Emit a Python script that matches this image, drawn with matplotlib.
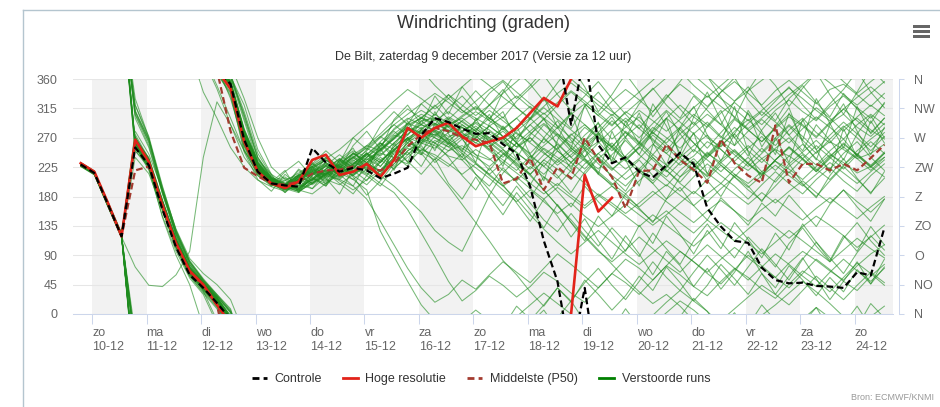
import numpy as np
import pandas as pd
import matplotlib
matplotlib.use('Agg')
import matplotlib.pyplot as plt
import matplotlib.dates as mdates
from matplotlib.lines import Line2D
from matplotlib.patches import Rectangle

plt.rcParams['font.family'] = ['Liberation Sans', 'DejaVu Sans']

#
# data (wind direction in degrees, 6-hourly from 9 Dec 19:00)
#
times = pd.date_range('2017-12-09 19:00', periods=60, freq='6h')

day_names = ['zo', 'ma', 'di', 'wo', 'do', 'vr', 'za', 'zo', 'ma', 'di', 'wo', 'do', 'vr', 'za', 'zo']
day_dates = ['10-12', '11-12', '12-12', '13-12', '14-12', '15-12', '16-12', '17-12',
             '18-12', '19-12', '20-12', '21-12', '22-12', '23-12', '24-12']
compass = ['N', 'NO', 'O', 'ZO', 'Z', 'ZW', 'W', 'NW', 'N']

control = [229, 216, 168, 119, 255, 228, 160, 102, 60, 40,
           17, 352, 267, 218, 200, 197, 195, 254, 232, 218,
           224, 220, 208, 215, 224, 274, 300, 294, 284, 276,
           277, 260, 246, 195, 112, 50, 290, 40, 259, 231,
           240, 218, 209, 228, 247, 230, 162, 134, 112, 109,
           71, 52, 47, 48, 43, 42, 40, 64, 59, 132]

hres = [231, 218, 170, 119, 267, 233, 166, 108, 66, 45,
        14, 345, 264, 218, 200, 193, 203, 236, 244, 213,
        218, 230, 210, 236, 285, 270, 285, 293, 272, 257,
        264, 270, 285, 308, 331, 318, 360, 213, 157, 178]
hres_long_way = [37]

p50 = [229, 216, 168, 119, 220, 226, 168, 108, 64, 43,
       14, 280, 224, 211, 200, 198, 203, 215, 220, 221,
       226, 223, 220, 230, 257, 275, 285, 280, 270, 267,
       262, 200, 207, 239, 190, 225, 208, 270, 236, 210,
       162, 219, 220, 260, 236, 221, 201, 268, 231, 212,
       201, 289, 201, 230, 230, 220, 230, 220, 239, 259]

# perturbed runs that stay in the westerly bundle
runs_west = [
    [229, 216, 168, 119, 265, 232, 168, 110, 66, 44,
     18, 350, 268, 222, 204, 196, 200, 214, 226, 218,
     232, 224, 244, 262, 280, 290, 282, 272, 278, 262,
     256, 270, 246, 232, 254, 240, 226, 250, 264, 240,
     222, 238, 260, 246, 228, 242, 264, 252, 232, 220,
     238, 252, 242, 228, 248, 264, 252, 238, 246, 260],
    [226, 213, 164, 116, 300, 255, 185, 125, 80, 52,
     30, 8, 300, 238, 208, 194, 206, 222, 212, 230,
     218, 236, 250, 268, 292, 284, 298, 278, 286, 270,
     288, 302, 276, 264, 290, 272, 250, 274, 292, 268,
     286, 302, 278, 262, 284, 306, 290, 270, 298, 282,
     264, 284, 302, 288, 270, 292, 306, 286, 272, 292],
    [231, 218, 171, 122, 258, 220, 150, 96, 55, 30,
     345, 290, 240, 212, 198, 190, 196, 208, 200, 216,
     206, 222, 214, 236, 256, 268, 262, 250, 258, 244,
     236, 252, 228, 214, 236, 222, 206, 230, 246, 224,
     206, 222, 244, 228, 210, 226, 246, 232, 214, 200,
     218, 234, 222, 206, 226, 244, 232, 216, 226, 240],
    [228, 215, 166, 117, 240, 215, 160, 105, 62, 40,
     20, 330, 260, 220, 200, 205, 190, 215, 232, 210,
     226, 244, 232, 256, 274, 296, 300, 286, 270, 282,
     300, 284, 262, 280, 298, 276, 262, 286, 270, 250,
     272, 290, 268, 250, 276, 294, 270, 256, 280, 298,
     276, 258, 282, 300, 278, 262, 286, 300, 282, 268],
    [232, 219, 172, 124, 270, 225, 148, 90, 45, 340,
     300, 255, 225, 205, 195, 188, 198, 192, 210, 224,
     212, 230, 220, 246, 266, 280, 274, 290, 300, 284,
     270, 284, 300, 278, 262, 286, 308, 290, 272, 256,
     280, 264, 244, 268, 286, 262, 240, 258, 276, 250,
     232, 254, 270, 246, 228, 250, 268, 242, 226, 248],
    [227, 214, 165, 118, 330, 270, 190, 120, 70, 35,
     350, 300, 250, 215, 200, 192, 186, 204, 218, 206,
     224, 212, 236, 250, 270, 262, 284, 300, 286, 272,
     258, 240, 262, 244, 226, 250, 232, 214, 238, 256,
     236, 218, 200, 224, 246, 228, 212, 236, 252, 230,
     214, 236, 256, 238, 220, 242, 260, 244, 228, 246],
    [230, 217, 170, 121, 280, 245, 190, 130, 85, 62,
     45, 22, 330, 270, 225, 206, 212, 226, 214, 232,
     246, 232, 252, 270, 288, 300, 292, 280, 296, 310,
     296, 282, 300, 318, 300, 284, 306, 322, 304, 288,
     310, 296, 276, 300, 320, 302, 286, 308, 324, 306,
     290, 312, 328, 310, 296, 318, 334, 316, 300, 322],
    [229, 215, 167, 120, 265, 240, 175, 112, 70, 48,
     25, 355, 280, 230, 205, 198, 210, 200, 216, 228,
     214, 230, 246, 240, 262, 278, 270, 260, 276, 268,
     250, 232, 254, 270, 248, 228, 244, 262, 240, 222,
     238, 256, 236, 218, 240, 258, 274, 252, 234, 254,
     272, 250, 230, 248, 266, 246, 228, 250, 268, 284],
    [228, 216, 169, 120, 255, 228, 162, 104, 62, 38,
     14, 346, 262, 218, 200, 192, 204, 216, 202, 220,
     236, 220, 240, 226, 250, 266, 258, 242, 236, 252,
     238, 220, 204, 226, 210, 196, 220, 238, 214, 198,
     216, 236, 212, 196, 220, 238, 216, 200, 222, 240,
     218, 202, 226, 244, 222, 206, 228, 246, 226, 210],
    [230, 217, 169, 121, 272, 236, 172, 114, 72, 50,
     28, 4, 320, 252, 214, 200, 194, 206, 222, 238,
     224, 240, 258, 276, 292, 306, 296, 310, 294, 280,
     266, 280, 262, 246, 268, 252, 274, 290, 270, 256,
     278, 262, 286, 270, 254, 276, 294, 272, 258, 280,
     298, 280, 262, 284, 302, 286, 268, 290, 306, 290],
    [227, 215, 166, 118, 310, 262, 184, 118, 74, 46,
     22, 352, 276, 226, 204, 196, 208, 222, 236, 224,
     240, 254, 242, 262, 282, 272, 286, 298, 280, 294,
     282, 266, 286, 300, 280, 262, 240, 260, 278, 258,
     236, 254, 274, 256, 236, 218, 240, 262, 244, 226,
     246, 266, 288, 266, 246, 268, 288, 270, 250, 272],
    [229, 217, 168, 120, 262, 230, 166, 108, 66, 42,
     20, 352, 272, 226, 206, 198, 190, 184, 200, 214,
     230, 246, 236, 222, 244, 260, 276, 264, 252, 270,
     288, 272, 256, 276, 292, 274, 258, 240, 262, 282,
     300, 284, 266, 246, 268, 288, 306, 290, 270, 292,
     310, 294, 274, 296, 316, 300, 280, 302, 320, 304],
    [231, 218, 170, 122, 250, 224, 158, 100, 58, 34,
     10, 340, 256, 214, 198, 190, 202, 218, 206, 198,
     214, 230, 218, 240, 258, 250, 272, 288, 274, 262,
     280, 264, 248, 230, 214, 236, 254, 236, 218, 200,
     184, 204, 224, 206, 188, 210, 230, 212, 196, 176,
     198, 218, 200, 184, 206, 224, 204, 188, 212, 230],
    [226, 214, 165, 117, 320, 268, 188, 122, 76, 50,
     26, 2, 304, 240, 210, 198, 212, 226, 240, 226,
     212, 228, 252, 274, 266, 282, 300, 286, 302, 316,
     300, 318, 334, 316, 298, 320, 340, 322, 304, 326,
     344, 328, 310, 332, 352, 336, 318, 340, 356, 338,
     320, 342, 358, 340, 322, 344, 352, 336, 318, 338],
    [230, 216, 168, 119, 268, 234, 170, 112, 68, 46,
     24, 358, 282, 232, 208, 196, 188, 200, 214, 228,
     246, 232, 218, 236, 254, 244, 266, 256, 272, 288,
     270, 254, 272, 290, 270, 250, 232, 256, 276, 254,
     234, 256, 278, 260, 240, 220, 244, 266, 248, 230,
     212, 236, 256, 238, 218, 240, 262, 244, 224, 246],
    [228, 215, 167, 119, 258, 226, 162, 106, 64, 40,
     16, 348, 266, 220, 202, 194, 206, 198, 212, 226,
     216, 232, 248, 270, 286, 276, 262, 278, 296, 280,
     264, 248, 232, 214, 236, 254, 276, 256, 238, 220,
     242, 262, 240, 220, 202, 226, 248, 228, 210, 232,
     254, 234, 216, 238, 258, 240, 222, 244, 264, 246],
    [232, 219, 171, 123, 275, 238, 174, 114, 70, 44,
     12, 334, 252, 212, 196, 204, 216, 230, 218, 234,
     250, 240, 256, 284, 300, 290, 306, 292, 278, 296,
     312, 296, 280, 298, 316, 298, 282, 264, 286, 306,
     288, 270, 292, 312, 294, 276, 254, 278, 300, 282,
     264, 286, 306, 290, 272, 294, 314, 296, 278, 300],
    [229, 216, 168, 120, 262, 230, 168, 110, 68, 45,
     22, 354, 276, 228, 206, 198, 192, 206, 220, 210,
     226, 214, 232, 252, 244, 266, 282, 268, 254, 240,
     226, 244, 262, 240, 258, 276, 254, 238, 222, 244,
     266, 244, 226, 210, 232, 252, 236, 218, 240, 258,
     238, 220, 242, 260, 238, 222, 246, 264, 240, 220],
    [227, 214, 165, 118, 250, 228, 164, 106, 64, 40,
     18, 350, 270, 224, 204, 196, 190, 208, 222, 238,
     224, 244, 264, 282, 298, 312, 300, 288, 304, 318,
     300, 286, 268, 290, 308, 288, 270, 252, 274, 296,
     278, 258, 280, 300, 282, 262, 242, 264, 286, 268,
     248, 270, 290, 272, 252, 274, 294, 276, 256, 278],
    [230, 217, 169, 121, 266, 232, 168, 110, 66, 43,
     19, 351, 270, 224, 204, 196, 206, 220, 210, 226,
     242, 228, 212, 230, 250, 262, 254, 270, 286, 268,
     252, 236, 220, 242, 226, 208, 232, 252, 230, 212,
     196, 218, 240, 220, 200, 184, 206, 228, 210, 190,
     174, 196, 218, 198, 180, 204, 226, 206, 186, 208],
]
west_long_way = {0: [4], 7: [4], 8: [4], 11: [4], 12: [4], 15: [4], 18: [4]}

# perturbed runs that turn to east / north-east
runs_east = [
    [229, 216, 168, 120, 264, 230, 166, 108, 66, 44,
     20, 352, 270, 224, 204, 196, 206, 220, 212, 206,
     196, 176, 142, 106, 70, 40, 18, 30, 52, 38,
     60, 80, 64, 48, 70, 92, 76, 58, 40, 62,
     84, 70, 52, 74, 96, 80, 62, 46, 68, 90,
     74, 56, 40, 62, 84, 68, 50, 36, 58, 76],
    [231, 218, 170, 122, 256, 224, 160, 102, 60, 36,
     12, 344, 260, 216, 200, 192, 204, 218, 230, 214,
     228, 216, 200, 186, 160, 124, 88, 50, 20, 36,
     58, 44, 26, 42, 64, 50, 32, 18, 40, 62,
     48, 30, 52, 74, 60, 42, 28, 50, 70, 56,
     38, 24, 46, 66, 52, 34, 56, 78, 62, 44],
    [228, 215, 167, 119, 263, 230, 166, 108, 66, 43,
     20, 352, 270, 224, 204, 198, 208, 222, 214, 228,
     240, 226, 212, 196, 176, 156, 128, 110, 96, 138,
     182, 216, 238, 222, 244, 260, 240, 222, 246, 262,
     240, 222, 204, 226, 246, 228, 210, 232, 250, 232,
     214, 236, 254, 236, 218, 238, 256, 238, 220, 240],
    [230, 217, 169, 121, 268, 234, 170, 112, 68, 45,
     21, 353, 272, 226, 206, 198, 210, 224, 214, 230,
     246, 236, 252, 268, 286, 278, 292, 282, 270, 284,
     268, 252, 236, 214, 190, 166, 140, 118, 96, 80,
     98, 118, 100, 82, 64, 86, 106, 88, 70, 52,
     72, 92, 76, 58, 42, 64, 84, 66, 50, 70],
    [229, 216, 168, 119, 261, 228, 164, 106, 64, 41,
     17, 349, 266, 222, 202, 194, 206, 218, 228, 214,
     230, 246, 232, 256, 276, 290, 280, 266, 280, 292,
     276, 262, 278, 262, 246, 232, 250, 234, 216, 196,
     176, 160, 142, 158, 140, 124, 144, 128, 112, 130,
     148, 132, 116, 134, 150, 136, 120, 102, 118, 136],
    [230, 217, 168, 120, 266, 232, 168, 110, 67, 44,
     19, 351, 268, 222, 204, 196, 206, 218, 208, 222,
     206, 190, 127, 88, 50, 14, 350, 330, 312, 300,
     288, 272, 256, 270, 252, 236, 218, 200, 182, 166,
     150, 134, 152, 136, 120, 104, 122, 140, 124, 108,
     92, 110, 128, 112, 96, 80, 98, 116, 100, 86],
    [228, 215, 166, 118, 260, 226, 162, 104, 62, 39,
     15, 347, 264, 220, 202, 194, 188, 200, 214, 226,
     212, 198, 220, 240, 262, 254, 240, 226, 246, 230,
     214, 232, 216, 200, 184, 200, 182, 166, 184, 170,
     154, 170, 188, 172, 156, 140, 158, 174, 158, 142,
     160, 176, 160, 144, 162, 178, 162, 146, 164, 180],
    [231, 218, 170, 122, 270, 236, 172, 114, 70, 46,
     23, 355, 278, 230, 208, 200, 212, 200, 214, 230,
     244, 258, 250, 272, 290, 300, 288, 302, 290, 276,
     262, 246, 230, 212, 190, 166, 144, 120, 98, 76,
     54, 34, 16, 30, 12, 350, 332, 350, 8, 26,
     44, 30, 14, 36, 58, 40, 22, 44, 64, 48],
    [229, 216, 167, 119, 264, 231, 167, 109, 67, 44,
     20, 352, 272, 226, 206, 198, 192, 206, 220, 208,
     224, 238, 226, 250, 270, 282, 274, 262, 250, 232,
     214, 196, 176, 152, 130, 110, 92, 110, 128, 110,
     92, 76, 94, 112, 96, 80, 64, 84, 102, 86,
     70, 56, 78, 96, 82, 66, 52, 74, 92, 106],
]
east_long_way = {1: [4], 2: [4]}

# perturbed runs around north-west / north
runs_north = [
    [230, 217, 169, 121, 270, 236, 172, 114, 71, 47,
     24, 357, 280, 232, 208, 200, 212, 226, 238, 252,
     270, 288, 306, 326, 344, 330, 314, 330, 348, 6,
     350, 332, 316, 300, 318, 338, 354, 338, 320, 304,
     322, 340, 358, 18, 36, 20, 4, 344, 326, 342,
     358, 14, 32, 50, 34, 16, 356, 338, 356, 12],
    [228, 215, 167, 119, 262, 229, 165, 107, 65, 42,
     18, 350, 270, 224, 204, 196, 210, 224, 236, 224,
     240, 258, 276, 296, 314, 300, 318, 336, 320, 304,
     320, 338, 356, 14, 32, 16, 0, 342, 326, 310,
     294, 312, 296, 280, 298, 316, 334, 318, 302, 284,
     300, 318, 336, 352, 10, 354, 336, 320, 338, 356],
    [228, 214, 166, 118, 72, 44, 42, 60, 96, 240,
     325, 290, 250, 222, 204, 196, 206, 220, 232, 218,
     234, 250, 270, 290, 306, 322, 338, 324, 308, 326,
     344, 358, 340, 322, 306, 324, 342, 326, 308, 290,
     308, 326, 344, 2, 20, 6, 348, 330, 314, 296,
     312, 330, 346, 330, 312, 296, 314, 332, 348, 330],
]

# perturbed runs that back to south
runs_south = [
    [230, 216, 168, 120, 264, 231, 167, 109, 67, 45,
     22, 354, 274, 228, 206, 198, 190, 202, 216, 204,
     190, 206, 220, 238, 230, 252, 244, 230, 214, 230,
     212, 196, 210, 192, 176, 194, 178, 162, 180, 196,
     180, 164, 182, 198, 182, 166, 184, 200, 184, 168,
     186, 170, 188, 204, 186, 170, 190, 172, 156, 176],
    [229, 217, 169, 121, 267, 233, 169, 111, 68, 44,
     20, 352, 270, 224, 204, 194, 200, 214, 226, 212,
     228, 244, 262, 252, 268, 286, 270, 256, 240, 224,
     208, 190, 172, 190, 172, 154, 170, 150, 134, 150,
     168, 152, 136, 152, 170, 188, 172, 192, 210, 194,
     212, 228, 212, 196, 214, 232, 216, 200, 218, 236],
]
south_long_way = {0: [4]}

# perturbed runs with large swings after day 5
runs_mixed = [
    [229, 216, 168, 120, 305, 258, 186, 122, 76, 48,
     24, 352, 282, 236, 214, 186, 212, 226, 198, 236,
     254, 218, 262, 238, 296, 262, 310, 276, 248, 300,
     262, 226, 288, 244, 204, 266, 310, 252, 214, 280,
     236, 196, 258, 300, 240, 278, 214, 262, 318, 248,
     206, 270, 232, 298, 252, 216, 284, 240, 296, 262],
    [230, 218, 170, 121, 262, 226, 160, 102, 58, 32,
     8, 338, 248, 206, 188, 214, 196, 232, 208, 184,
     222, 248, 206, 262, 232, 284, 250, 296, 270, 232,
     292, 310, 264, 300, 332, 286, 254, 320, 278, 234,
     296, 260, 322, 288, 246, 302, 340, 296, 258, 312,
     280, 244, 308, 266, 330, 292, 254, 318, 276, 300],
    [228, 216, 168, 120, 268, 236, 172, 114, 72, 48,
     26, 356, 284, 234, 210, 196, 220, 204, 228, 212,
     248, 230, 214, 250, 234, 214, 238, 200, 176, 210,
     180, 152, 186, 160, 132, 168, 140, 112, 150, 124,
     96, 136, 108, 150, 122, 92, 128, 100, 140, 114,
     86, 124, 98, 138, 110, 82, 120, 96, 134, 106],
    [231, 217, 169, 121, 310, 268, 194, 128, 82, 54,
     30, 6, 310, 246, 212, 192, 210, 228, 244, 222,
     258, 280, 252, 298, 320, 290, 334, 306, 348, 322,
     296, 340, 12, 352, 326, 354, 20, 348, 310, 336,
     8, 340, 302, 330, 356, 24, 4, 332, 300, 342,
     14, 350, 318, 346, 10, 336, 306, 340, 16, 354],
    [229, 216, 167, 119, 264, 230, 166, 108, 64, 40,
     16, 348, 262, 220, 196, 218, 234, 210, 196, 226,
     210, 182, 204, 230, 248, 226, 262, 240, 212, 190,
     224, 198, 170, 142, 176, 150, 118, 146, 112, 84,
     120, 92, 60, 96, 74, 42, 70, 38, 64, 96,
     62, 30, 58, 86, 54, 22, 50, 80, 46, 72],
    [230, 217, 170, 122, 270, 238, 174, 116, 72, 47,
     22, 354, 280, 232, 208, 190, 206, 224, 236, 220,
     238, 256, 272, 258, 284, 302, 290, 316, 334, 312,
     338, 356, 330, 350, 14, 40, 18, 52, 30, 6,
     28, 58, 36, 72, 48, 20, 44, 76, 54, 30,
     62, 40, 74, 52, 28, 56, 34, 68, 46, 84],
    [228, 215, 166, 118, 320, 272, 196, 128, 80, 52,
     28, 2, 296, 232, 202, 220, 186, 212, 240, 214,
     196, 232, 254, 220, 268, 244, 292, 266, 240, 280,
     306, 270, 238, 274, 300, 256, 222, 264, 294, 230,
     270, 308, 262, 228, 286, 318, 274, 234, 276, 308,
     256, 288, 316, 262, 236, 290, 322, 280, 244, 286],
    [229, 216, 168, 119, 258, 224, 160, 102, 60, 37,
     14, 344, 258, 216, 200, 208, 192, 216, 204, 236,
     220, 204, 234, 252, 270, 248, 236, 262, 246, 214,
     196, 224, 202, 178, 210, 188, 164, 196, 172, 150,
     184, 162, 140, 176, 194, 166, 144, 178, 158, 136,
     170, 150, 182, 158, 134, 168, 190, 164, 142, 176],
    [230, 216, 168, 120, 306, 264, 190, 124, 78, 50,
     26, 354, 278, 230, 206, 194, 214, 230, 250, 232,
     270, 252, 288, 310, 290, 322, 304, 336, 312, 296,
     320, 344, 316, 298, 330, 306, 284, 318, 340, 312,
     288, 322, 346, 320, 300, 334, 312, 290, 326, 348,
     318, 296, 330, 350, 324, 302, 338, 314, 292, 324],
    [229, 217, 168, 120, 266, 232, 168, 110, 68, 45,
     20, 352, 272, 226, 204, 210, 194, 206, 232, 214,
     230, 246, 226, 252, 270, 246, 222, 196, 168, 140,
     112, 82, 60, 34, 12, 40, 20, 48, 70, 44,
     22, 50, 80, 56, 36, 64, 90, 68, 44, 72,
     100, 76, 52, 84, 110, 86, 62, 94, 120, 98],
    [231, 218, 171, 122, 261, 226, 162, 104, 62, 38,
     14, 346, 264, 220, 202, 186, 204, 192, 218, 200,
     184, 212, 196, 224, 240, 258, 232, 250, 268, 244,
     220, 246, 226, 198, 232, 212, 186, 218, 240, 208,
     188, 222, 200, 176, 210, 234, 204, 180, 214, 196,
     172, 206, 230, 200, 178, 212, 238, 208, 184, 218],
    [228, 214, 166, 118, 312, 266, 192, 126, 80, 52,
     28, 4, 306, 240, 208, 196, 222, 208, 196, 222,
     240, 222, 258, 280, 262, 296, 278, 262, 290, 274,
     252, 288, 262, 236, 270, 296, 266, 240, 278, 302,
     270, 244, 282, 310, 276, 248, 288, 312, 270, 242,
     282, 308, 274, 250, 290, 266, 236, 276, 304, 270],
    [230, 217, 169, 121, 270, 236, 172, 114, 70, 46,
     22, 354, 276, 228, 206, 198, 214, 200, 222, 236,
     218, 240, 262, 244, 226, 262, 280, 260, 236, 214,
     190, 166, 196, 170, 144, 126, 154, 128, 104, 132,
     110, 88, 124, 100, 76, 112, 138, 110, 86, 118,
     96, 72, 108, 132, 104, 80, 116, 140, 112, 90],
    [229, 216, 168, 119, 262, 228, 164, 106, 64, 41,
     17, 349, 268, 222, 204, 194, 188, 212, 228, 244,
     228, 252, 272, 290, 274, 300, 320, 298, 318, 342,
     320, 300, 326, 346, 6, 336, 312, 334, 356, 330,
     306, 284, 310, 336, 314, 290, 316, 340, 2, 328,
     304, 326, 348, 320, 298, 322, 344, 12, 340, 316],
]
mixed_long_way = {1: [4], 10: [4]}


#
# continuous direction: shortest turn between steps unless marked as the long way round
#
def unwrap(vals, long_way=()):
    out = [float(vals[0])]
    for i in range(1, len(vals)):
        d = (vals[i] - vals[i - 1] + 180) % 360 - 180
        if i in long_way:
            d -= 360 * np.sign(d)
        out.append(out[-1] + d)
    return np.array(out)


#
# plot a direction series, wrapped round the 0-360 axis
#
def plot_dir(ax, x, vals, long_way=(), **kw):
    u = unwrap(vals, long_way)
    for m in range(-3, 4):
        ax.plot(x, u + 360 * m, **kw)


W, H = 940, 407
fig = plt.figure(figsize=(W / 100, H / 100), dpi=100)
ax = fig.add_axes([73 / W, 93 / H, 820 / W, 235 / H])

x = mdates.date2num(times.to_pydatetime())
day_x = mdates.date2num(pd.date_range('2017-12-10', periods=15, freq='D').to_pydatetime())

# alternate day shading
for i in range(0, len(day_x), 2):
    ax.axvspan(day_x[i], day_x[i] + 1, color='#f2f2f2', lw=0, zorder=0)

green = dict(color='#1e8c1e', lw=0.75, alpha=0.6, zorder=2)
groups = [(runs_west, west_long_way), (runs_east, east_long_way), (runs_north, {}),
          (runs_south, south_long_way), (runs_mixed, mixed_long_way)]
for group, lw_map in groups:
    for j, run in enumerate(group):
        assert len(run) == 60
        plot_dir(ax, x, run, lw_map.get(j, ()), **green)

plot_dir(ax, x, p50, color='#a33b2f', lw=1.6, dashes=(3, 1.6), zorder=3)
plot_dir(ax, x[:len(hres)], hres, hres_long_way, color='#e2231a', lw=1.9, zorder=4,
         solid_joinstyle='round')
plot_dir(ax, x, control, color='black', lw=1.6, dashes=(3, 1.6), zorder=5)

ax.set_xlim(day_x[0] - 0.35, day_x[0] + 14.70)
ax.set_ylim(0, 360)
ax.set_yticks(range(0, 361, 45))
ax.yaxis.grid(True, color='#e6e6e6', lw=0.75)
ax.set_axisbelow(True)
for s in ['top', 'left', 'right']:
    ax.spines[s].set_visible(False)
ax.spines['bottom'].set_color('#ccd6eb')
ax.spines['bottom'].set_linewidth(0.75)
ax.tick_params(axis='y', length=0, pad=11, labelsize=9, labelcolor='#666666')
ax.set_xticks(day_x)
ax.set_xticklabels([n + '\n' + d for n, d in zip(day_names, day_dates)], ha='left',
                   linespacing=1.25)
ax.tick_params(axis='x', length=7, width=0.75, color='#ccd6eb', pad=2,
               labelsize=9, labelcolor='#666666')

ax2 = ax.twinx()
ax2.set_ylim(0, 360)
ax2.set_yticks(range(0, 361, 45))
ax2.set_yticklabels(compass)
for s in ['top', 'left', 'bottom']:
    ax2.spines[s].set_visible(False)
ax2.spines['right'].set_position(('outward', 4.5))
ax2.spines['right'].set_color('#ccd6eb')
ax2.spines['right'].set_linewidth(0.75)
ax2.tick_params(axis='y', length=3.75, width=0.75, color='#ccd6eb', pad=7,
                labelsize=9, labelcolor='#666666')

# titles
fig.text(483 / W, 1 - 24 / H, 'Windrichting (graden)', ha='center', va='center',
         fontsize=13, color='#333333')
fig.text(483 / W, 1 - 57 / H, 'De Bilt, zaterdag 9 december 2017 (Versie za 12 uur)',
         ha='center', va='center', fontsize=9, color='#333333')
fig.text(934 / W, 1 - 398 / H, 'Bron: ECMWF/KNMI', ha='right', va='center',
         fontsize=6.5, color='#999999')

# frame and menu icon
fig.add_artist(Line2D([23 / W, 1], [1 - 10 / H, 1 - 10 / H], color='#b4c5cf', lw=1))
fig.add_artist(Line2D([23 / W, 23 / W], [0, 1 - 10 / H], color='#b4c5cf', lw=1))
for yb in (25, 30, 35):
    fig.add_artist(Rectangle((913 / W, 1 - (yb + 3) / H), 17 / W, 3 / H,
                             transform=fig.transFigure, color='#666666', lw=0))

handles = [
    Line2D([], [], color='black', lw=2, dashes=(2.5, 1.5)),
    Line2D([], [], color='#e2231a', lw=2),
    Line2D([], [], color='#a33b2f', lw=2, dashes=(2.5, 1.5)),
    Line2D([], [], color='#008000', lw=2),
]
labels = ['Controle', 'Hoge resolutie', 'Middelste (P50)', 'Verstoorde runs']
fig.legend(handles, labels, loc='center', bbox_to_anchor=(481 / W, 1 - 379 / H), ncol=4,
           frameon=False, fontsize=9, handlelength=1.2, handletextpad=0.6,
           columnspacing=1.7, labelcolor='#333333')

fig.savefig('out.png', dpi=100)
